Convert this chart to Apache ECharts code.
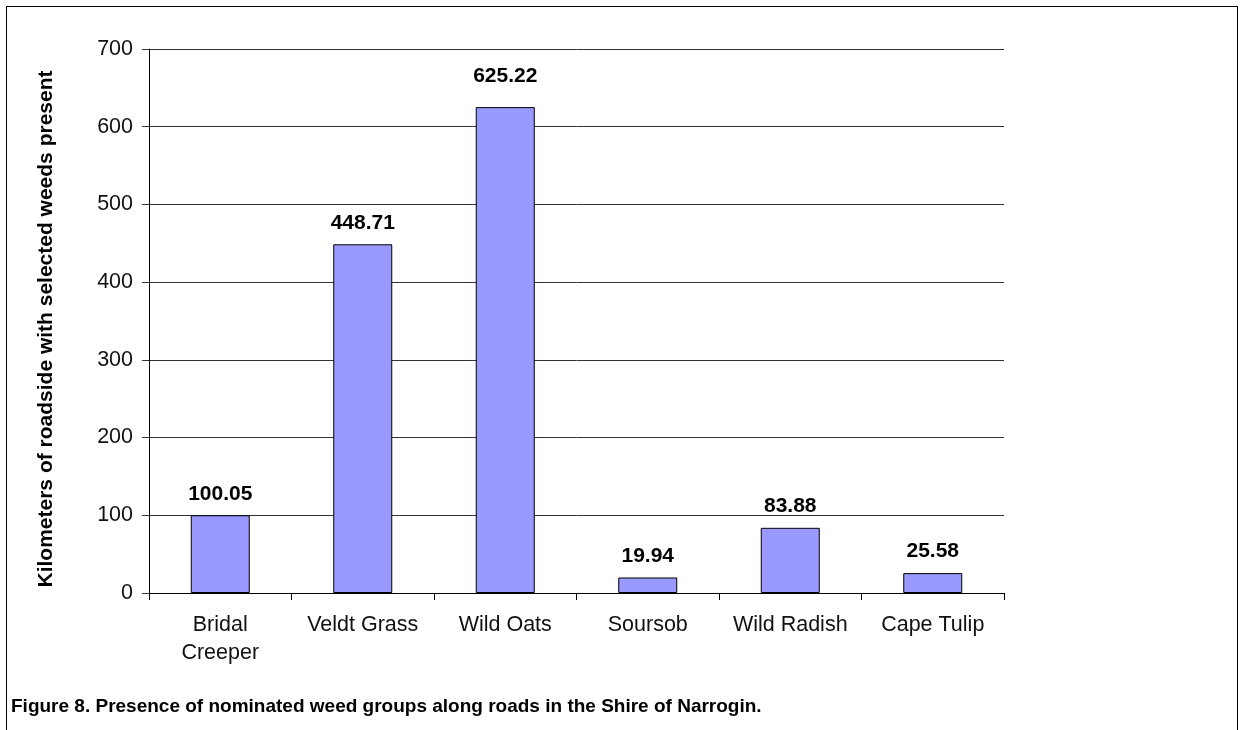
<!DOCTYPE html>
<html><head><meta charset="utf-8">
<script src="https://cdn.jsdelivr.net/npm/echarts@6/dist/echarts.min.js"></script>
<style>
html,body{margin:0;padding:0;background:#fff;}
#frame{position:absolute;left:6px;top:6px;width:1232px;height:730px;border-left:1px solid #000;border-top:1px solid #000;border-right:1px solid #000;box-sizing:border-box;}
#chart{position:absolute;left:0;top:0;width:1240px;height:730px;}
</style></head>
<body>
<div id="frame"></div>
<div id="chart"></div>
<script>
const categories = ['Bridal\nCreeper', 'Veldt Grass', 'Wild Oats', 'Soursob', 'Wild Radish', 'Cape Tulip'];
const values = [100.05, 448.71, 625.22, 19.94, 83.88, 25.58];
const yTicks = [0, 100, 200, 300, 400, 500, 600, 700];
const yTitle = 'Kilometers of roadside with selected weeds present';
const caption = 'Figure 8. Presence of nominated weed groups along roads in the Shire of Narrogin.';

const seriesData = values.map((v, i) => i === 2 ? {value: v, label: {distance: 20}} : v);

const chart = echarts.init(document.getElementById('chart'), null, {renderer: 'canvas'});
chart.setOption({
  backgroundColor: 'transparent',
  animation: false,
  title: {
    text: caption, left: 6, top: 692,
    textStyle: {fontFamily: 'Liberation Sans', fontWeight: 'bold', fontSize: 19, color: '#000'}
  },
  grid: {left: 149, right: 236, top: 49, bottom: 137, containLabel: false},
  xAxis: {
    type: 'category', data: categories,
    axisLine: {lineStyle: {color: '#000', width: 1}},
    axisTick: {show: true, alignWithLabel: false, length: 7, lineStyle: {color: '#000'}},
    axisLabel: {color: '#111', fontFamily: 'Liberation Sans', fontSize: 21.5, margin: 18, lineHeight: 28, interval: 0}
  },
  yAxis: {
    type: 'value', min: yTicks[0], max: yTicks[yTicks.length - 1], interval: 100,
    name: yTitle, nameLocation: 'middle', nameGap: 92, nameRotate: 90,
    nameTextStyle: {fontFamily: 'Liberation Sans', fontWeight: 'bold', fontSize: 21, color: '#000', padding: [0, 16, 0, 0]},
    axisLine: {show: true, lineStyle: {color: '#000', width: 1}},
    axisTick: {show: true, length: 7, lineStyle: {color: '#333'}},
    axisLabel: {color: '#111', fontFamily: 'Liberation Sans', fontSize: 21.5, margin: 16},
    splitLine: {show: true, lineStyle: {color: '#333', width: 1}}
  },
  series: [{
    type: 'bar', data: seriesData, barWidth: 59,
    itemStyle: {color: '#9999FF', borderColor: '#000', borderWidth: 1},
    label: {show: true, position: 'top', distance: 11, color: '#000', fontFamily: 'Liberation Sans', fontWeight: 'bold', fontSize: 21,
      formatter: p => Number(p.value).toFixed(2)}
  }]
});
</script>
</body></html>
